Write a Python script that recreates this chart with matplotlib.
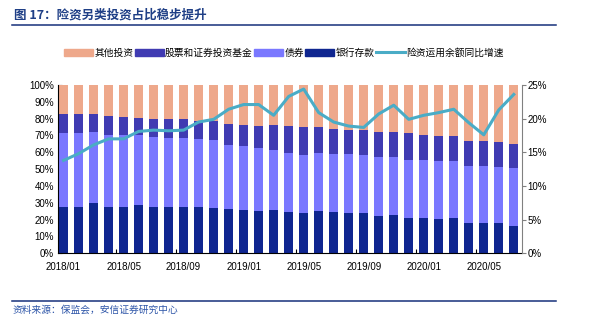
#Insurance fund allocation mix (stacked %) with YoY growth of fund balance
import matplotlib.pyplot as plt
import numpy as np
from matplotlib.lines import Line2D

plt.rcParams['font.family'] = ['Liberation Sans', 'Noto Sans CJK SC', 'DejaVu Sans']

months = ["2018/01", "2018/02", "2018/03", "2018/04", "2018/05", "2018/06", "2018/07", "2018/08",
          "2018/09", "2018/10", "2018/11", "2018/12", "2019/01", "2019/02", "2019/03", "2019/04",
          "2019/05", "2019/06", "2019/07", "2019/08", "2019/09", "2019/10", "2019/11", "2019/12",
          "2020/01", "2020/02", "2020/03", "2020/04", "2020/05", "2020/06", "2020/07"]

deposit = [27.7, 27.7, 29.7, 27.7, 27.7, 28.9, 27.3, 27.3, 27.7, 27.3, 26.9, 26.3, 25.7, 25.1, 25.7, 24.7,
           24.1, 25.1, 24.3, 24.1, 23.8, 22.2, 22.6, 21.2, 21.2, 20.4, 21.2, 18.2, 17.8, 18.2, 16.4]
bonds = [43.6, 43.6, 42.2, 42.8, 42.6, 41.6, 41.6, 41.4, 40.6, 40.6, 40.4, 38.1, 38.1, 37.7, 35.9, 35.1,
         34.3, 34.3, 34.7, 34.9, 34.6, 34.8, 34.4, 34.2, 34.2, 34.4, 33.6, 33.9, 34.3, 33.3, 34.1]
stocks = [11.7, 11.7, 11.1, 11.1, 10.9, 10.1, 11.1, 10.9, 11.3, 10.9, 11.1, 12.2, 12.4, 13.0, 14.4, 16.0,
          16.8, 15.8, 14.7, 14.3, 14.9, 14.9, 15.3, 16.3, 14.9, 15.1, 15.1, 14.8, 14.8, 14.4, 14.6]
other = [17.0, 17.0, 17.0, 18.4, 18.8, 19.4, 20.0, 20.4, 20.4, 21.2, 21.6, 23.4, 23.8, 24.2, 24.0, 24.2,
         24.8, 24.8, 26.3, 26.7, 26.7, 28.1, 27.7, 28.3, 29.7, 30.1, 30.1, 33.1, 33.1, 34.1, 34.9]
growth = [13.8, 14.8, 16.1, 17.0, 17.0, 18.1, 18.3, 18.2, 18.3, 19.5, 19.9, 21.4, 22.1, 22.1, 20.5, 23.3,
          24.4, 20.9, 19.5, 18.9, 18.7, 20.7, 22.0, 19.9, 20.5, 20.9, 21.4, 19.4, 17.6, 21.3, 23.6]

c_deposit = "#0F2690"
c_bonds = "#7A78FF"
c_stocks = "#403BB2"
c_other = "#EEA88B"
c_line = "#4AACC6"

fig = plt.figure(figsize=(5.9, 3.23), dpi=100)
ax = fig.add_axes([0.0988, 0.2158, 0.786, 0.521])

x = np.arange(len(months))
w = 0.6
b1 = np.array(deposit)
b2 = b1 + np.array(bonds)
b3 = b2 + np.array(stocks)
ax.bar(x, deposit, w, color=c_deposit, zorder=2)
ax.bar(x, bonds, w, bottom=b1, color=c_bonds, zorder=2)
ax.bar(x, stocks, w, bottom=b2, color=c_stocks, zorder=2)
ax.bar(x, other, w, bottom=b3, color=c_other, zorder=2)

ax.set_xlim(-0.35, len(months) - 0.45)
ax.set_ylim(0, 100)
ax.set_yticks(np.arange(0, 101, 10))
ax.set_yticklabels([f"{v}%" for v in range(0, 101, 10)])
ax.set_xticks(x[::4])
ax.set_xticklabels(months[::4])
ax.set_xticks(x[4::4] - 0.5, minor=True)
ax.tick_params(axis='x', which='major', length=0, labelsize=7, pad=6)
ax.tick_params(axis='x', which='minor', direction='in', length=3, width=0.8)
ax.tick_params(axis='y', direction='in', length=3, width=0.8, labelsize=7, pad=3)
ax.spines['top'].set_visible(False)
ax.spines['right'].set_visible(False)

ax2 = ax.twinx()
ax2.plot(x, growth, color=c_line, lw=2.2, zorder=3)
ax2.set_ylim(0, 25)
ax2.set_yticks(np.arange(0, 26, 5))
ax2.set_yticklabels([f"{v}%" for v in range(0, 26, 5)])
ax2.tick_params(axis='y', direction='out', length=3, width=0.8, color='#808080', labelsize=7, pad=1)
ax2.spines['right'].set_color('#808080')
for s in ['top', 'left', 'bottom']:
    ax2.spines[s].set_visible(False)

handles = [
    plt.Rectangle((0, 0), 1, 1, color=c_other),
    plt.Rectangle((0, 0), 1, 1, color=c_stocks),
    plt.Rectangle((0, 0), 1, 1, color=c_bonds),
    plt.Rectangle((0, 0), 1, 1, color=c_deposit),
    Line2D([], [], color=c_line, lw=2.2),
]
labels = ["其他投资", "股票和证券投资基金", "债券", "银行存款", "险资运用余额同比增速"]
fig.legend(handles, labels, loc='center', bbox_to_anchor=(0.481, 0.836), ncol=5, frameon=False,
           handlelength=3.0, handleheight=0.8, handletextpad=0.15, columnspacing=0.1,
           prop={'family': ['Noto Sans CJK SC'], 'size': 7})

# header and footer
fig.text(0.024, 0.952, "图 17：险资另类投资占比稳步提升", fontsize=9, fontweight='bold',
         color='#1F3F86', va='center', family=['Noto Sans CJK SC'])
fig.add_artist(Line2D([0.02, 0.942], [0.922, 0.922], color='#16307A', lw=1.1))
fig.add_artist(Line2D([0.02, 0.942], [0.068, 0.068], color='#16307A', lw=1.1))
fig.text(0.022, 0.04, "资料来源：保监会，安信证券研究中心", fontsize=7, style='italic',
         color='#2D55A8', va='center', family=['Noto Sans CJK SC'])

fig.savefig("out.png", dpi=100)
